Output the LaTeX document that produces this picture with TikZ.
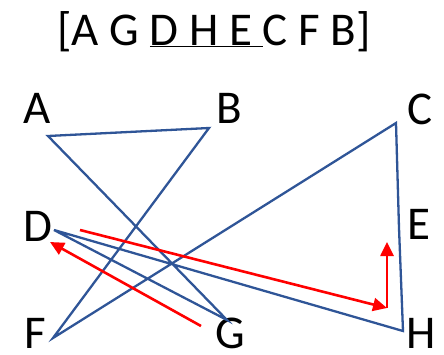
\documentclass[tikz,border=0pt]{standalone}
\usepackage{fontspec}
\setmainfont{Carlito}
\usepackage{xcolor}
\usetikzlibrary{arrows.meta}
\definecolor{tourblue}{RGB}{47,85,151}

\begin{document}
\begin{tikzpicture}[
    x=1pt, y=-1pt,
    letter/.style={inner sep=0pt, font=\fontsize{47}{50}\selectfont},
    edge/.style={draw=tourblue, line width=2.3pt},
    move/.style={draw=red, line width=2.6pt, -{Triangle[length=14pt,width=13pt]}}
]
\useasboundingbox (0,0) rectangle (444,354);

\node (title) [letter, anchor=base] at (214,45) {[A G \underline{D H E }C F B]};

\node (A) [letter] at (37,108) {A};
\node (B) [letter] at (229,108) {B};
\node (C) [letter] at (420,109) {C};
\node (D) [letter] at (38,226) {D};
\node (E) [letter] at (419,224) {E};
\node (F) [letter] at (35,333) {F};
\node (G) [letter] at (230,333) {G};
\node (H) [letter] at (421,333) {H};

% tour points
\coordinate (pA) at (48,136);
\coordinate (pB) at (209,128);
\coordinate (pC) at (396,123);
\coordinate (pD) at (54,230);
\coordinate (pE) at (399,228);
\coordinate (pF) at (53,338);
\coordinate (pG) at (227,320);
\coordinate (pH) at (403,331);

\draw [edge] (pA) -- (pG) -- (pD) -- (pH) -- (pE) -- (pC) -- (pF) -- (pB) -- cycle;

% 2-opt moves
\coordinate (m1) at (201,326);
\coordinate (m2) at (50,242);
\coordinate (m3) at (80,230);
\coordinate (m4) at (387,308);
\coordinate (m5) at (387,242);

\draw [move] (m1) -- (m2);
\draw [move] (m3) -- (m4);
\draw [move] (m4) -- (m5);

\end{tikzpicture}
\end{document}
